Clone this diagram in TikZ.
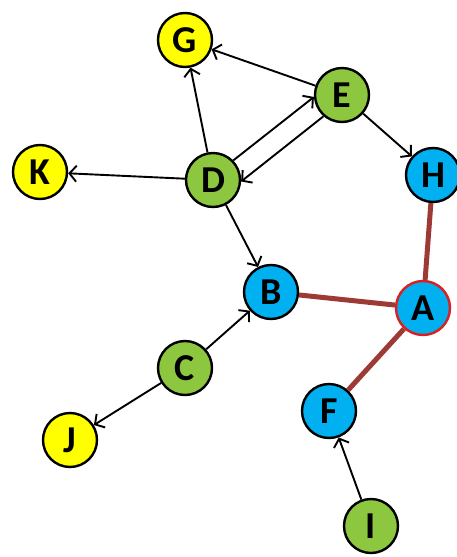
\documentclass[tikz,border=0pt]{standalone}
\usepackage{fontspec}
\setmainfont{Carlito}
\usetikzlibrary{arrows.meta}
\definecolor{ylw}{RGB}{255,255,0}
\definecolor{grn}{RGB}{141,198,63}
\definecolor{blu}{RGB}{0,176,240}
\definecolor{redge}{RGB}{158,58,54}
\definecolor{rbord}{RGB}{220,30,30}
\tikzset{
  vtx/.style={circle, draw=black, line width=2.4pt, minimum size=54pt, inner sep=0pt,
    font=\fontsize{38}{38}\selectfont\bfseries},
  yv/.style={vtx, fill=ylw},
  gv/.style={vtx, fill=grn},
  bv/.style={vtx, fill=blu},
  arr/.style={line width=1.9pt, -{Straight Barb[length=7pt,width=16pt,line width=1.9pt]}},
  red/.style={line width=5pt, draw=redge}
}
\begin{document}
\begin{tikzpicture}[x=1pt,y=-1pt]
\useasboundingbox (0,0) rectangle (457,557);
\node[yv] (G) at (185,40) {G};
\node[gv] (E) at (342,95) {E};
\node[yv] (K) at (40,172) {K};
\node[gv] (D) at (213,180) {D};
\node[bv] (H) at (433,175) {H};
\node[bv] (B) at (271,292) {B};
\node[bv, draw=rbord] (A) at (423,308) {A};
\node[gv] (C) at (185,368) {C};
\node[bv] (F) at (329,411) {F};
\node[yv] (J) at (70,440) {J};
\node[gv] (I) at (371,526) {I};
\draw[red] (H) -- (A);
\draw[red] (B) -- (A);
\draw[red] (A) -- (F);
\draw[arr] (E) -- (G);
\draw[arr] (D) -- (G);
\draw[arr] (D.44) -- (E.184);
\draw[arr] (E.229) -- (D.357);
\draw[arr] (D) -- (K);
\draw[arr] (E) -- (H);
\draw[arr] (D) -- (B);
\draw[arr] (C) -- (B);
\draw[arr] (C) -- (J);
\draw[arr] (I) -- (F);
\end{tikzpicture}
\end{document}
